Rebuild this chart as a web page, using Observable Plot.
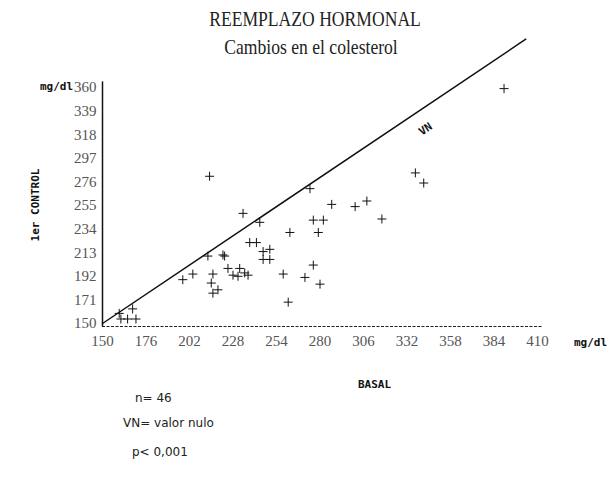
<!DOCTYPE html>
<html><head><meta charset="utf-8">
<script src="https://cdn.jsdelivr.net/npm/d3@7"></script>
<script src="https://cdn.jsdelivr.net/npm/@observablehq/plot@0.6"></script>
<style>
body{margin:0;background:#fff;}
#wrap{position:relative;width:613px;height:478px;overflow:hidden;background:#fff;}
#wrap svg{position:absolute;left:0;top:0;}
.t{position:absolute;white-space:nowrap;color:#111;}
.ttl{font-family:'Liberation Serif',serif;font-size:22px;transform:translate(-50%,-50%) scaleX(0.8);color:#222;}
.lab{font-family:'DejaVu Sans Mono',monospace;font-weight:bold;font-size:11px;}
.note{font-family:'DejaVu Sans',sans-serif;font-size:12px;transform:translateY(-50%);color:#222;}
</style></head><body><div id="wrap"></div>
<script>
const title = "REEMPLAZO HORMONAL";
const subtitle = "Cambios en el colesterol";
const xLabel = "BASAL";
const yLabel = "1er CONTROL";
const unit = "mg/dl";
const notes = ["n= 46", "VN= valor nulo", "p< 0,001"];
const vnText = "VN";

const xTicks = [150,176,202,228,254,280,306,332,358,384,410];
const yTicks = [150,171,192,213,234,255,276,297,318,339,360];

const basal   = [390,214,274,234,244,213,222,223,238,242,246,250,246,250,262,276,282,279,287,301,308,276,258,271,280,261,204,198,216,225,232,228,235,237,215,216,219,337,342,317,160,168,161,165,170,231];
const control = [359,281,270,248,240,210,211,210,222,222,214,216,207,207,231,242,242,231,256,254,259,202,194,191,185,169,194,189,194,199,199,193,195,193,186,177,180,284,275,243,159,163,154,154,154,192];

const vnEnds = [150, 403];
const vnLabelAt = [343, 323];

const pts = basal.map((b,i)=>({basal:b, control:control[i]}));
const vn = vnEnds.map(v=>({basal:v, control:v}));

const tickFont = "'Liberation Serif',serif";

const chart = Plot.plot({
  width:613, height:360,
  marginLeft:102, marginRight:76, marginTop:87, marginBottom:37,
  style:{background:"transparent", overflow:"visible"},
  x:{domain:[xTicks[0], xTicks[xTicks.length-1]]},
  y:{domain:[yTicks[0], yTicks[yTicks.length-1]]},
  marks:[
    Plot.axisX({ticks:xTicks, tickSize:0, tickPadding:12, fontSize:15, fill:"#555", fontFamily:tickFont, label:null}),
    Plot.axisY({ticks:yTicks, tickSize:0, tickPadding:6, fontSize:15, fill:"#555", fontFamily:tickFont, label:null}),
    Plot.ruleY([yTicks[0]], {x1:xTicks[0], x2:413, stroke:"#222", strokeWidth:1.2, strokeDasharray:"3,1.5", dy:3}),
    Plot.ruleX([xTicks[0]], {y1:yTicks[0]-3, y2:yTicks[yTicks.length-1]+5, stroke:"#111", strokeWidth:1.5}),
    Plot.line(vn, {x:"basal", y:"control", stroke:"#111", strokeWidth:1.5, clip:false}),
    Plot.dot(pts, {x:"basal", y:"control", symbol:"plus", r:3, stroke:"#111", strokeWidth:1}),
    Plot.text([vnLabelAt], {x:d=>d[0], y:d=>d[1], text:[vnText], rotate:-34, fontSize:11, fontWeight:"bold", fontFamily:"'DejaVu Sans Mono',monospace", fill:"#111"})
  ]
});
const wrap = document.getElementById("wrap");
wrap.appendChild(chart);

function add(cls, txt, css){
  const d=document.createElement("div"); d.className="t "+cls; d.textContent=txt;
  Object.assign(d.style, css); wrap.appendChild(d); return d;
}
add("ttl", title, {left:"315px", top:"19px"});
add("ttl", subtitle, {left:"311px", top:"47px"});
add("lab", unit, {left:"40px", top:"80px"});
add("lab", unit, {left:"574px", top:"336px"});
add("lab", xLabel, {left:"358px", top:"378px"});
add("lab", yLabel, {left:"35px", top:"205px", transform:"translate(-50%,-50%) rotate(-90deg)"});
add("note", notes[0], {left:"135px", top:"398px"});
add("note", notes[1], {left:"123px", top:"423px"});
add("note", notes[2], {left:"132px", top:"452px"});
</script></body></html>
